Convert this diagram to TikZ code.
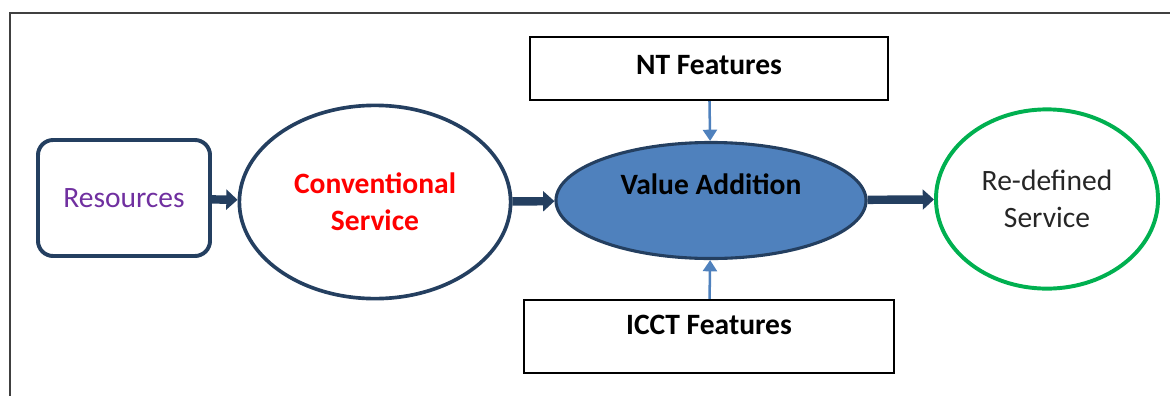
\documentclass[tikz,border=0pt]{standalone}
\usepackage{fontspec}
\setmainfont{Carlito}
\usetikzlibrary{shapes.geometric,arrows.meta}
\definecolor{azulesc}{HTML}{243F60}
\definecolor{azulva}{HTML}{4F81BD}
\definecolor{roxo}{HTML}{7030A0}
\definecolor{verde}{HTML}{00B050}
\definecolor{cinza}{HTML}{404040}

\begin{document}
\begin{tikzpicture}[x=0.025cm,y=-0.025cm,
    font=\fontsize{21}{26.5}\selectfont,
    caixa/.style={draw=azulesc,line width=2.8pt,rounded corners=0.38cm,minimum width=4.3cm,minimum height=2.9cm},
    oval/.style={ellipse,draw=azulesc,line width=2.6pt,align=center,inner sep=0pt},
    feat/.style={draw=black,line width=1.5pt,font=\fontsize{21}{26.5}\selectfont\bfseries,text height=0.5cm},
    fluxo/.style={draw=azulesc,line width=6pt,-{Triangle[length=8pt,width=14pt]}},
    entrada/.style={draw=azulva,line width=1.8pt,-{Triangle[length=8pt,width=10pt]}}]
    \useasboundingbox (0,0) rectangle (1170,396);
    % moldura
    \draw[cinza,line width=1.6pt] (1170,13) -- (10,13) -- (10,396);

    % nos
    \node[caixa,text=roxo] (rec) at (124,198) {Resources};
    \node[oval,text=red,font=\fontsize{21}{26.5}\selectfont\bfseries,minimum width=6.78cm,minimum height=4.83cm] (conv) at (375,202) {Conventional\\Service};
    \node[oval,fill=azulva,line width=2.2pt,font=\fontsize{21}{26.5}\selectfont\bfseries,text height=0.5cm,text depth=0.8cm,minimum width=7.75cm,minimum height=2.9cm] (valor) at (711,200.5) {Value Addition};
    \node[oval,draw=verde,line width=2.8pt,text=black!85,minimum width=5.55cm,minimum height=4.48cm] (novo) at (1047,199) {Re-defined\\Service};
    \node[feat,text depth=0.2cm,minimum width=8.95cm,minimum height=1.575cm] (nt) at (709,68.5) {NT Features};
    \node[feat,text depth=0.6cm,minimum width=9.25cm,minimum height=1.825cm] (icct) at (709,336.5) {ICCT Features};

    % setas
    \draw[fluxo] (rec) -- (conv);
    \draw[fluxo] (conv) -- (valor);
    \draw[fluxo] (valor) -- (novo);
    \draw[entrada] (nt) -- (valor);
    \draw[entrada] (icct) -- (valor);
\end{tikzpicture}
\end{document}
